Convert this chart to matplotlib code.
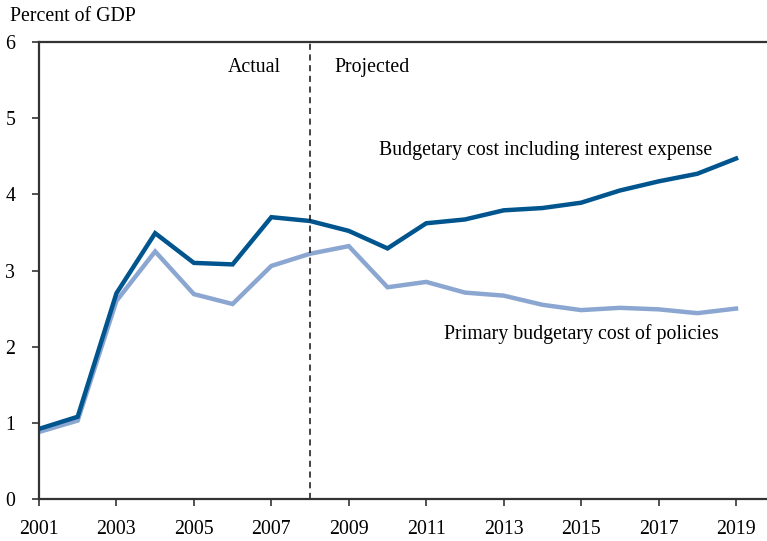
import matplotlib
matplotlib.use("Agg")
import matplotlib.pyplot as plt

plt.rcParams['font.family'] = ['Liberation Serif', 'DejaVu Serif']

# values, percent of GDP
years = list(range(2001, 2020))
with_interest = [0.92, 1.08, 2.70, 3.49, 3.10, 3.08, 3.70, 3.65, 3.52, 3.29,
                 3.62, 3.67, 3.79, 3.82, 3.89, 4.05, 4.17, 4.27, 4.47]
primary = [0.88, 1.03, 2.60, 3.25, 2.69, 2.56, 3.06, 3.22, 3.32, 2.78,
           2.85, 2.71, 2.67, 2.55, 2.48, 2.51, 2.49, 2.44, 2.50]
xticks = list(range(2001, 2020, 2))
yticks = [0, 1, 2, 3, 4, 5, 6]

dark = '#00558f'
light = '#8ba7d1'
fs = 14.3

fig = plt.figure(figsize=(7.67, 5.41), dpi=100)
ax = fig.add_axes([0.0508, 0.0776, 0.9492, 0.8448])

ax.plot(years, primary, color=light, lw=3.2, solid_joinstyle='miter')
ax.plot(years, with_interest, color=dark, lw=3.2, solid_joinstyle='miter')
ax.axvline(2008, color='#111111', lw=1.1, ls=(0, (4, 3)))

ax.set_xlim(2001, 2019.8)
ax.set_ylim(0, 6)
ax.set_xticks(xticks)
ax.set_yticks(yticks)
ax.tick_params(axis='x', direction='out', length=5, width=1.2, pad=10,
               labelsize=fs, color='#333333')
ax.tick_params(axis='y', direction='out', length=5, width=1.2, pad=12,
               labelsize=fs, color='#333333')
for s in ['left', 'bottom', 'top']:
    ax.spines[s].set_linewidth(1.6)
    ax.spines[s].set_color('#333333')
ax.spines['right'].set_visible(False)

fig.text(0.013, 0.969, 'Percent of GDP', fontsize=fs, va='center', ha='left')
ax.text(2007.25, 5.67, 'Actual', fontsize=fs, ha='right', va='center')
ax.text(2008.64, 5.67, 'Projected', fontsize=fs, ha='left', va='center')
ax.text(2018.38, 4.58, 'Budgetary cost including interest expense',
        fontsize=fs, ha='right', va='center')
ax.text(2018.56, 2.17, 'Primary budgetary cost of policies',
        fontsize=fs, ha='right', va='center')

fig.savefig('out.png', dpi=100)
